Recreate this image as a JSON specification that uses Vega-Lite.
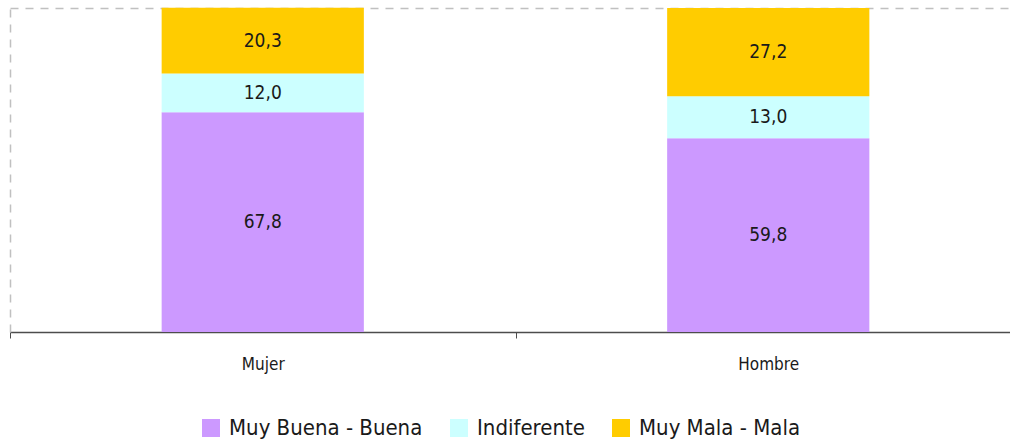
{
  "$schema": "https://vega.github.io/schema/vega-lite/v6.json",
  "autosize": {"type": "none"},
  "width": 1000,
  "height": 324,
  "padding": {"left": 10, "top": 8, "right": 0, "bottom": 112},
  "background": "white",
  "config": {
    "font": "Liberation Sans Narrow, Arial Narrow, DejaVu Sans Condensed, sans-serif",
    "view": {"stroke": null},
    "locale": {"number": {"decimal": ",", "thousands": ".", "grouping": [3], "currency": ["", " €"]}}
  },
  "data": {
    "values": [
      {"sexo": "Mujer", "opinion": "Muy Buena - Buena", "orden": 1, "valor": 67.8},
      {"sexo": "Mujer", "opinion": "Indiferente", "orden": 2, "valor": 12.0},
      {"sexo": "Mujer", "opinion": "Muy Mala - Mala", "orden": 3, "valor": 20.3},
      {"sexo": "Hombre", "opinion": "Muy Buena - Buena", "orden": 1, "valor": 59.8},
      {"sexo": "Hombre", "opinion": "Indiferente", "orden": 2, "valor": 13.0},
      {"sexo": "Hombre", "opinion": "Muy Mala - Mala", "orden": 3, "valor": 27.2}
    ]
  },
  "encoding": {
    "x": {
      "field": "sexo", "type": "nominal", "sort": ["Mujer", "Hombre"],
      "scale": {"range": [0, 1011], "paddingInner": 0, "paddingOuter": 0},
      "axis": {
        "title": null, "labelAngle": 0, "tickBand": "extent",
        "domainColor": "#4d4d4d", "domainWidth": 1.5, "tickColor": "#4d4d4d", "tickSize": 6,
        "labelFontSize": 17, "labelColor": "#1a1a1a", "labelPadding": 18
      }
    },
    "y": {
      "field": "valor", "type": "quantitative", "stack": "zero",
      "scale": {"domain": [0, 100], "nice": false},
      "axis": {
        "title": null, "labels": false, "ticks": false, "values": [100],
        "grid": true, "gridColor": "#c0c0c0", "gridDash": [8, 7], "gridWidth": 1.5,
        "domainColor": "#c0c0c0", "domainDash": [8, 7], "domainWidth": 1.5
      }
    },
    "order": {"field": "orden", "type": "quantitative"}
  },
  "layer": [
    {
      "mark": {"type": "bar", "width": {"band": 0.4}},
      "encoding": {
        "color": {
          "field": "opinion", "type": "nominal",
          "scale": {
            "domain": ["Muy Buena - Buena", "Indiferente", "Muy Mala - Mala"],
            "range": ["#CC99FF", "#CCFFFF", "#FFCC00"]
          },
          "legend": {
            "title": null, "orient": "none", "legendX": 190, "legendY": 409,
            "direction": "horizontal",
            "symbolType": "square", "symbolSize": 324, "symbolStrokeWidth": 0,
            "labelFontSize": 22, "labelColor": "#1a1a1a", "labelOffset": 7, "labelLimit": 0,
            "columnPadding": 25, "padding": 0
          }
        }
      }
    },
    {
      "mark": {"type": "text", "fontSize": 19, "color": "#1a1a1a", "baseline": "middle"},
      "encoding": {
        "y": {"field": "valor", "type": "quantitative", "stack": "zero", "bandPosition": 0.5},
        "text": {"field": "valor", "type": "quantitative", "format": ".1f"}
      }
    }
  ]
}
